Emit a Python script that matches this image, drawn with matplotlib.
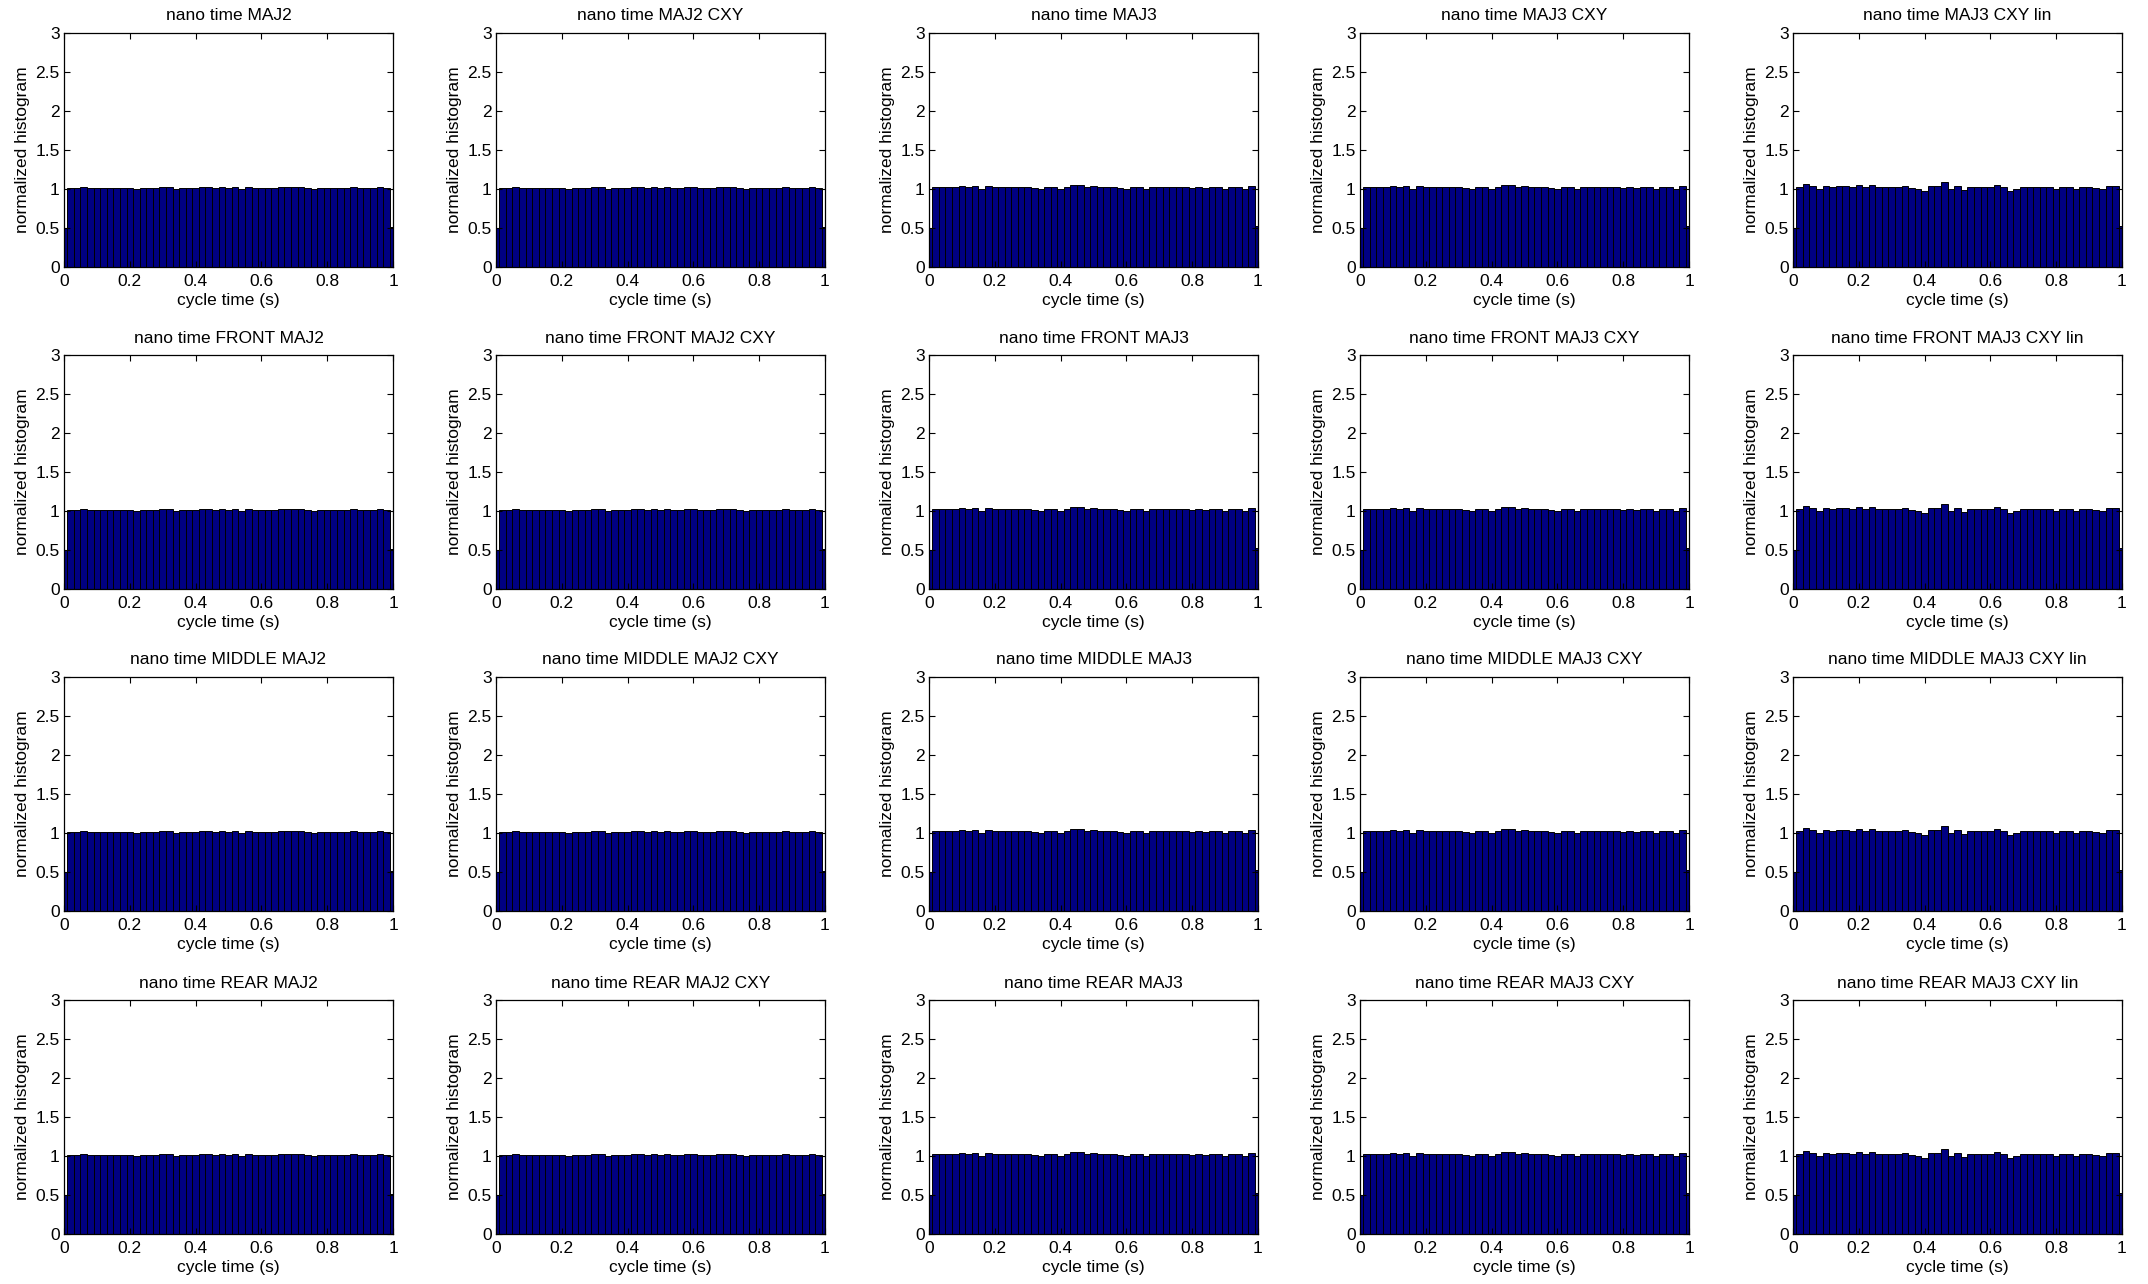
import numpy as np
import matplotlib
matplotlib.use("Agg")
import matplotlib.pyplot as plt

plt.rcParams['font.family'] = ['Liberation Sans', 'DejaVu Sans']

# bin centres 0, 0.02, ..., 1 (edge bins only half inside the cycle)
centers = np.round(np.arange(51) * 0.02, 2)

row_names = ["", "FRONT ", "MIDDLE ", "REAR "]
col_names = ["MAJ2", "MAJ2 CXY", "MAJ3", "MAJ3 CXY", "MAJ3 CXY lin"]

# inner 49 bins per column (rows look identical)
maj2 = [1.01, 1.01, 1.02, 1.01, 1.01, 1.01, 1.01, 1.01, 1.01, 1.01,
        1.00, 1.01, 1.01, 1.01, 1.02, 1.02, 1.00, 1.01, 1.01, 1.01,
        1.02, 1.02, 1.01, 1.02, 1.01, 1.02, 1.00, 1.02, 1.01, 1.01,
        1.01, 1.01, 1.02, 1.02, 1.02, 1.02, 1.01, 1.00, 1.01, 1.01,
        1.01, 1.01, 1.01, 1.02, 1.01, 1.01, 1.01, 1.02, 1.01]
maj2_cxy = [1.01, 1.01, 1.02, 1.01, 1.01, 1.01, 1.01, 1.01, 1.01, 1.01,
            1.00, 1.01, 1.01, 1.01, 1.02, 1.02, 1.00, 1.01, 1.01, 1.01,
            1.02, 1.02, 1.01, 1.02, 1.01, 1.02, 1.01, 1.01, 1.03, 1.02,
            1.01, 1.01, 1.01, 1.02, 1.02, 1.02, 1.01, 1.00, 1.01, 1.01,
            1.01, 1.01, 1.01, 1.02, 1.01, 1.01, 1.01, 1.02, 1.01]
maj3 = [1.025, 1.03, 1.025, 1.03, 1.035, 1.025, 1.035, 1.00, 1.035, 1.025,
        1.02, 1.025, 1.02, 1.02, 1.03, 1.01, 1.00, 1.025, 1.02, 0.995,
        1.025, 1.045, 1.045, 1.025, 1.035, 1.02, 1.03, 1.03, 1.015, 1.00,
        1.025, 1.02, 0.995, 1.03, 1.025, 1.02, 1.03, 1.02, 1.03, 1.015,
        1.02, 1.015, 1.03, 1.03, 1.00, 1.03, 1.03, 1.00, 1.035]
maj3_cxy = [1.025, 1.03, 1.025, 1.03, 1.035, 1.025, 1.035, 1.00, 1.035, 1.025,
            1.02, 1.025, 1.02, 1.025, 1.03, 1.01, 1.00, 1.025, 1.02, 1.00,
            1.025, 1.045, 1.045, 1.025, 1.035, 1.02, 1.03, 1.03, 1.015, 1.00,
            1.025, 1.025, 0.995, 1.03, 1.025, 1.02, 1.03, 1.025, 1.03, 1.015,
            1.02, 1.015, 1.03, 1.03, 1.005, 1.03, 1.03, 1.00, 1.035]
maj3_cxy_lin = [1.02, 1.06, 1.035, 1.00, 1.04, 1.02, 1.04, 1.04, 1.02, 1.055,
                1.02, 1.05, 1.02, 1.03, 1.03, 1.02, 1.035, 1.01, 1.00, 0.97,
                1.04, 1.04, 1.09, 1.00, 1.04, 0.99, 1.03, 1.03, 1.02, 1.02,
                1.045, 1.02, 0.98, 1.00, 1.02, 1.02, 1.02, 1.03, 1.02, 1.00,
                1.02, 1.02, 1.00, 1.02, 1.02, 1.01, 1.00, 1.04, 1.04]
inner = [maj2, maj2_cxy, maj3, maj3_cxy, maj3_cxy_lin]
first_bin = [0.50, 0.50, 0.50, 0.50, 0.50]
last_bin = [0.51, 0.51, 0.53, 0.53, 0.52]

col_left = [64, 496, 929, 1360, 1793]
row_bottom = [267, 589, 911, 1234]
W, H = 2148, 1284

fig = plt.figure(figsize=(21.48, 12.84), dpi=100)
for r in range(4):
    for c in range(5):
        ax = fig.add_axes([col_left[c] / W, 1 - row_bottom[r] / H, 329 / W, 234 / H])
        vals = [first_bin[c]] + inner[c] + [last_bin[c]]
        ax.bar(centers, vals, width=0.02, color='#000082', edgecolor='black', linewidth=0.7)
        ax.set_xlim(0, 1)
        ax.set_ylim(0, 3)
        ax.set_xticks([0, 0.2, 0.4, 0.6, 0.8, 1])
        ax.set_xticklabels(["0", "0.2", "0.4", "0.6", "0.8", "1"])
        ax.set_yticks([0, 0.5, 1, 1.5, 2, 2.5, 3])
        ax.set_yticklabels(["0", "0.5", "1", "1.5", "2", "2.5", "3"])
        ax.tick_params(direction='in', length=4, width=0.8, labelsize=12.5,
                       top=True, right=True)
        ax.tick_params(axis='x', pad=5)
        ax.tick_params(axis='y', pad=3)
        for s in ax.spines.values():
            s.set_linewidth(0.9)
        ax.set_title("nano time " + row_names[r] + col_names[c], fontsize=12.5, pad=9)
        ax.set_xlabel("cycle time (s)", fontsize=12.5, labelpad=3)
        ax.set_ylabel("normalized histogram", fontsize=12.5, labelpad=4)

fig.savefig("out.png", dpi=100)
